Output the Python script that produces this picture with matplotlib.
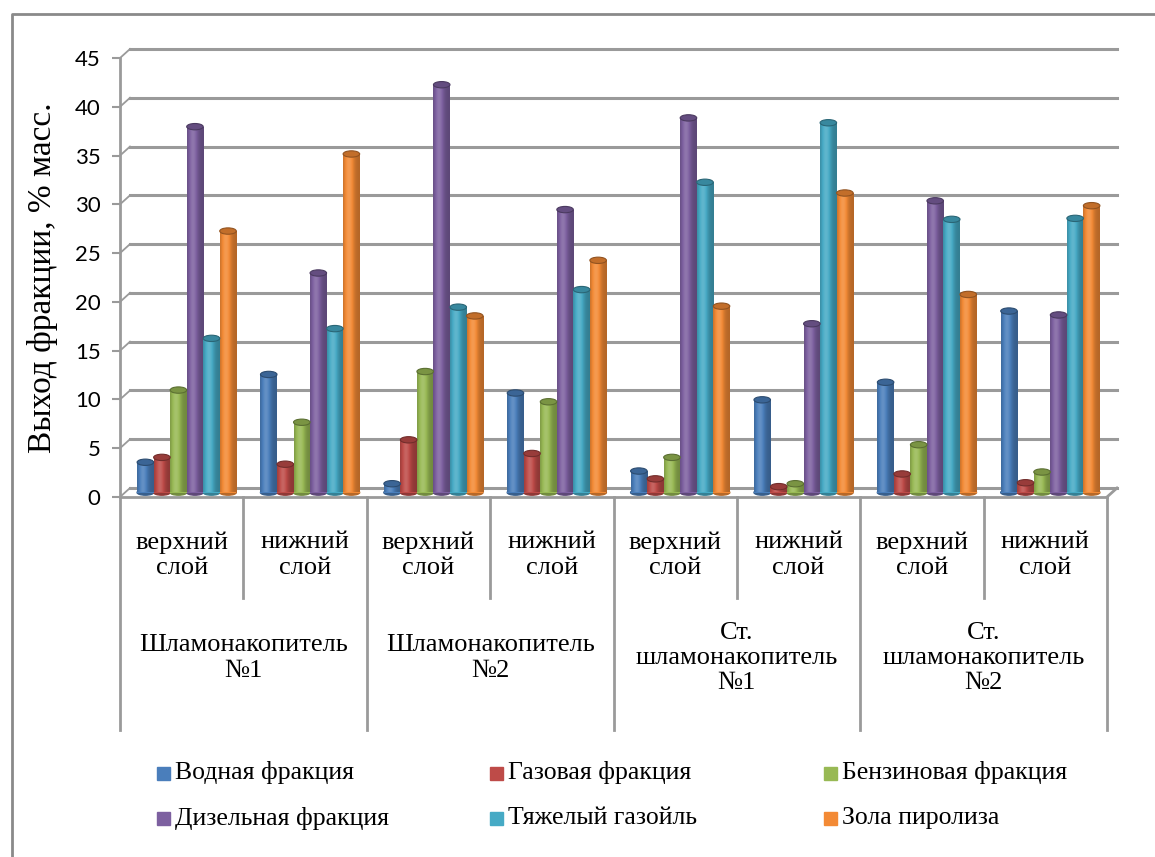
import matplotlib
matplotlib.use('Agg')
import matplotlib.pyplot as plt
import numpy as np
from matplotlib.patches import Ellipse, Rectangle
from matplotlib.colors import to_rgb

layers = ['верхний\nслой', 'нижний\nслой'] * 4
sites = ['Шламонакопитель\n№1', 'Шламонакопитель\n№2',
         'Ст.\nшламонакопитель\n№1', 'Ст.\nшламонакопитель\n№2']
series = ['Водная фракция', 'Газовая фракция', 'Бензиновая фракция',
          'Дизельная фракция', 'Тяжелый газойль', 'Зола пиролиза']
colors = ['#4A7EBB', '#BE4B48', '#98B954', '#7D60A0', '#46AAC5', '#F38A35']

water = [3.1, 12.1, 0.9, 10.2, 2.2, 9.5, 11.3, 18.6]
gas = [3.6, 2.9, 5.4, 4.0, 1.4, 0.6, 1.9, 1.0]
petrol = [10.5, 7.2, 12.4, 9.3, 3.6, 0.9, 4.9, 2.1]
diesel = [37.5, 22.5, 41.8, 29.0, 38.4, 17.3, 29.9, 18.2]
gasoil = [15.8, 16.8, 19.0, 20.8, 31.8, 37.9, 28.0, 28.1]
ash = [26.8, 34.7, 18.1, 23.8, 19.1, 30.7, 20.3, 29.4]
values = [water, gas, petrol, diesel, gasoil, ash]

SERIF = ['Liberation Serif', 'DejaVu Serif']
GRID = '#9a9a9a'

W, H = 1155, 857
fig = plt.figure(figsize=(W / 100, H / 100), dpi=100)

# plot box in pixels (front face of the 3d box)
x0, x1, ytop, ybot = 120, 1107, 58, 497
ax = fig.add_axes([x0 / W, 1 - ybot / H, (x1 - x0) / W, (ybot - ytop) / H])
ax.set_xlim(0, 8)
ax.set_ylim(0, 45)
ax.patch.set_alpha(0)

# depth offset of the back wall, in data units
px_x = (x1 - x0) / 8
px_y = (ybot - ytop) / 45
dx, dy = 10 / px_x, 9 / px_y

ticks = np.arange(0, 46, 5)
for t in ticks:
    ax.plot([dx, 8 + dx], [t + dy, t + dy], color=GRID, lw=2.2, clip_on=False, zorder=1)
    ax.plot([0, dx], [t, t + dy], color=GRID, lw=1.3, clip_on=False, zorder=1)
ax.plot([8, 8 + dx], [0, dy], color=GRID, lw=2, clip_on=False, zorder=1)

for s in ['top', 'right']:
    ax.spines[s].set_visible(False)
for s in ['left', 'bottom']:
    ax.spines[s].set_color(GRID)
    ax.spines[s].set_linewidth(2)
ax.set_yticks(ticks)
ax.set_yticklabels([str(t) for t in ticks], family=['Lato', 'DejaVu Sans'], fontsize=16)
ax.tick_params(axis='y', direction='out', length=6, width=1.5, color=GRID, pad=8)
ax.set_xticks([])

ax.set_ylabel('Выход фракции, % масс.', family=SERIF, fontsize=24, labelpad=12)


def shade(rgb, k):
    c = np.array(rgb)
    if k >= 1:
        return c + (1 - c) * (k - 1)
    return c * k


# cylinders
bw = 0.134
base = dy / 2
prof = np.linspace(0, 1, 40)
light = 0.74 + 0.4 * np.exp(-((prof - 0.35) / 0.3) ** 2)
for k, (vals, col) in enumerate(zip(values, colors)):
    rgb = to_rgb(col)
    grad = np.array([[shade(rgb, min(l, 1.2)) for l in light]])
    grad = np.clip(grad, 0, 1)
    xs = np.arange(8) + 0.5 + dx / 2 + (k - 2.5) * bw
    bars = ax.bar(xs, vals, width=bw, bottom=base, color=col, lw=0, zorder=3)
    for b, v in zip(bars, vals):
        xl = b.get_x()
        im = ax.imshow(grad, extent=[xl, xl + bw, base, base + v], aspect='auto',
                       interpolation='bilinear', zorder=3)
        im.set_clip_path(b)
        ax.add_patch(Ellipse((xl + bw / 2, base), bw, 0.55, color=shade(rgb, 0.75), zorder=2.9))
        ax.add_patch(Ellipse((xl + bw / 2, base + v), bw, 0.65, facecolor=shade(rgb, 0.8),
                             edgecolor=shade(rgb, 0.6), lw=0.8, zorder=4))
ax.set_xlim(0, 8)
ax.set_ylim(0, 45)

# two-level category axis
tr = ax.get_xaxis_transform()
fy = lambda py: (ybot - py) / (ybot - ytop)
for i in range(8):
    ax.text(i + 0.5, fy(555), layers[i], transform=tr, ha='center', va='center',
            family=SERIF, fontsize=19, linespacing=1.2)
for i in [1, 3, 5, 7]:
    ax.plot([i, i], [0, fy(598)], transform=tr, color=GRID, lw=2, clip_on=False)
for i in [0, 2, 4, 6, 8]:
    ax.plot([i, i], [0, fy(730)], transform=tr, color=GRID, lw=2, clip_on=False)
for j in range(4):
    ax.text(2 * j + 1, fy(658), sites[j], transform=tr, ha='center', va='center',
            family=SERIF, fontsize=19, linespacing=1.2)

# legend
cols_x = [157, 490, 824]
rows_y = [773, 818]
for k, name in enumerate(series):
    px = cols_x[k % 3]
    py = rows_y[k // 3]
    fig.patches.append(Rectangle((px / W, 1 - (py + 7) / H), 13 / W, 13 / H,
                                 transform=fig.transFigure, color=colors[k]))
    fig.text((px + 18) / W, 1 - py / H, name, ha='left', va='center',
             family=SERIF, fontsize=18.5)

# outer frame
fig.add_artist(plt.Line2D([12 / W, 12 / W, 1], [0, 1 - 14 / H, 1 - 14 / H],
                          transform=fig.transFigure, color='#8a8a8a', lw=2))

plt.savefig('out.png', dpi=100)
